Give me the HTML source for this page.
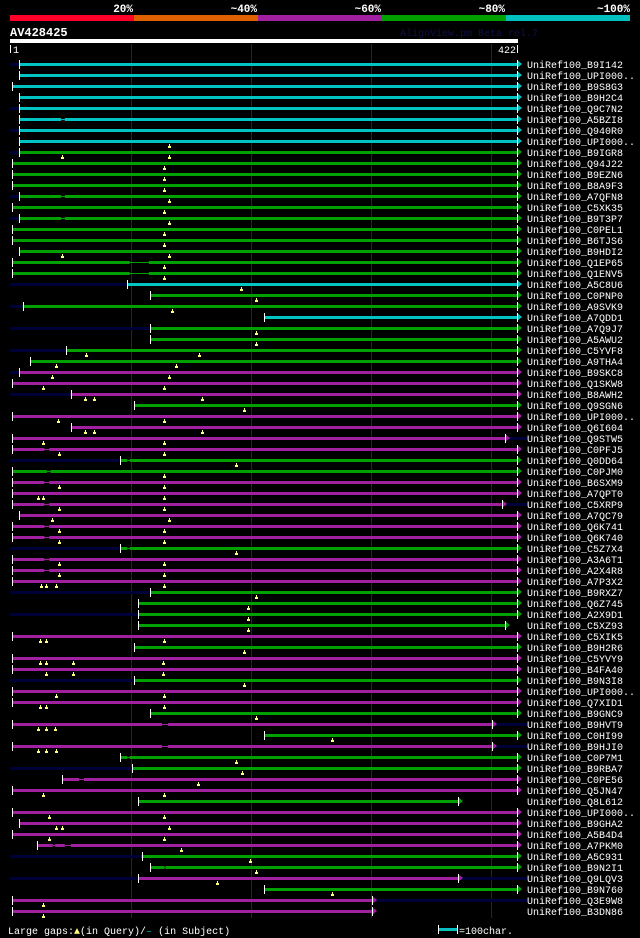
<!DOCTYPE html>
<html><head><meta charset="utf-8"><style>
html,body{margin:0;padding:0;background:#000;width:640px;height:938px;overflow:hidden}
svg{display:block}
text{font-family:"Liberation Mono","DejaVu Sans Mono",monospace}
</style></head><body>
<svg id="chart" width="640" height="938" viewBox="0 0 640 938" xmlns="http://www.w3.org/2000/svg">
<g>
<rect x="10" y="15" width="124" height="6" fill="#ff0028"/>
<rect x="134" y="15" width="124" height="6" fill="#e06000"/>
<rect x="258" y="15" width="124" height="6" fill="#a020a0"/>
<rect x="382" y="15" width="124" height="6" fill="#00a000"/>
<rect x="506" y="15" width="124" height="6" fill="#00c0c0"/>
<text x="133" y="12" fill="#fff" font-size="11" font-weight="bold" text-anchor="end">20%</text>
<text x="257" y="12" fill="#fff" font-size="11" font-weight="bold" text-anchor="end">~40%</text>
<text x="381" y="12" fill="#fff" font-size="11" font-weight="bold" text-anchor="end">~60%</text>
<text x="505" y="12" fill="#fff" font-size="11" font-weight="bold" text-anchor="end">~80%</text>
<text x="630" y="12" fill="#fff" font-size="11" font-weight="bold" text-anchor="end">~100%</text>
</g>
<text x="10" y="36" fill="#fff" font-size="12" font-weight="bold">AV428425</text>
<text x="400" y="36" fill="#101048" font-size="10">AlignView.pm Beta rel.7</text>
<rect x="10" y="39" width="508" height="4" fill="#fff"/>
<rect x="10" y="45" width="1" height="8" fill="#fff"/>
<text x="13" y="53" fill="#fff" font-size="10">1</text>
<text x="516" y="53" fill="#fff" font-size="10" text-anchor="end">422</text>
<rect x="517" y="45" width="1" height="8" fill="#fff"/>
<g id="grid"></g>
<g id="rows"></g>
<g>
<text x="8" y="934" fill="#fff" font-size="10">Large gaps:<tspan fill="#ffff80">▲</tspan>(in Query)/<tspan fill="#00c0c0">–</tspan> (in Subject)</text>
<rect x="439" y="928" width="18" height="3" fill="#00c0c0"/>
<rect x="438" y="925" width="1" height="9" fill="#fff"/>
<rect x="457" y="925" width="1" height="9" fill="#fff"/>
<text x="459" y="934" fill="#fff" font-size="10">=100char.</text>
</g>
</svg>
<script>
const names=["B9I142","UPI000..","B9S8G3","B9H2C4","Q9C7N2","A5BZI8","Q940R0","UPI000..","B9IGR8","Q94J22","B9EZN6","B8A9F3","A7QFN8","C5XK35","B9T3P7","C0PEL1","B6TJS6","B9HDI2","Q1EP65","Q1ENV5","A5C8U6","C0PNP0","A9SVK9","A7QDD1","A7Q9J7","A5AWU2","C5YVF8","A9THA4","B9SKC8","Q1SKW8","B8AWH2","Q9SGN6","UPI000..","Q6I604","Q9STW5","C0PFJ5","Q0DD64","C0PJM0","B6SXM9","A7QPT0","C5XRP9","A7QC79","Q6K741","Q6K740","C5Z7X4","A3A6T1","A2X4R8","A7P3X2","B9RXZ7","Q6Z745","A2X9D1","C5XZ93","C5XIK5","B9H2R6","C5YVY9","B4FA40","B9N3I8","UPI000..","Q7XID1","B9GNC9","B9HVT9","C0HI99","B9HJI0","C0P7M1","B9RBA7","C0PE56","Q5JN47","Q8L612","UPI000..","B9GHA2","A5B4D4","A7PKM0","A5C931","B9N2I1","Q9LQV3","B9N760","Q3E9W8","B3DN86"];
const identity=("cccccccc"+"gggggggggggg"+"cggcggggmmmgmmmmggmmmmmmgmmmggggmgmmgmmgmgmggmmgmmmmggmgmm").split("");
const starts=[7,7,1,7,7,7,7,7,7,1,1,1,7,1,7,1,1,7,1,1,97,116,10,211,116,116,46,16,7,1,50,103,1,50,1,1,91,1,1,1,1,7,1,1,91,1,1,1,116,106,106,106,1,103,1,1,103,1,1,116,1,211,1,91,101,43,1,106,1,7,1,22,109,116,106,211,1,1];
const ends=[422,422,422,422,422,422,422,422,422,422,422,422,422,422,422,422,422,422,422,422,422,422,422,422,422,422,422,422,422,422,422,422,422,422,412,422,422,422,422,422,409,422,422,422,422,422,422,422,422,422,422,412,422,422,422,422,422,422,422,422,401,422,401,422,422,422,422,373,422,422,422,422,422,422,373,422,301,301];
const leftOver=[1,0,0,0,1,0,1,0,1,0,0,0,1,0,1,0,0,0,0,0,1,0,1,0,1,0,1,0,1,0,1,0,0,0,0,0,1,0,0,0,0,0,0,0,1,0,0,0,1,0,1,0,0,0,0,0,1,0,0,0,0,0,0,0,1,0,0,0,0,0,0,0,1,0,1,0,0,0];
const rightOver=[0,0,0,0,0,0,0,0,0,0,0,0,0,0,0,0,0,0,0,0,0,0,0,0,0,0,0,0,0,0,0,0,0,0,1,0,0,0,0,0,1,0,0,0,0,0,0,0,0,0,0,0,0,0,0,0,0,0,0,0,1,0,1,0,0,0,0,0,0,0,0,0,0,0,1,0,1,0];
const queryGaps=[[],[],[],[],[],[],[],[132],[43,132],[128],[128],[128],[132],[128],[132],[128],[128],[43,132],[128],[128],[192],[204],[134],[],[204],[204],[63,157],[38,138],[34,132],[27,128],[62,69,159],[194],[39,128],[62,69,159],[27,128],[40,128],[188],[128],[40,128],[23,27,128],[40,128],[34,132],[40,128],[40,128],[188],[40,128],[40,128],[25,29,38,128],[204],[198],[198],[198],[24,29,128],[194],[24,29,52,127],[29,52,127],[194],[38,128],[24,29,128],[204],[23,29,37],[268],[23,29,38],[188],[193],[156],[27,128],[],[32,128],[38,43,132],[32,128],[142],[199],[204],[172],[268],[27],[27]];
const subjGaps=[[],[],[],[],[],[[42,45]],[],[],[],[],[],[],[[42,45]],[],[[42,45]],[],[],[],[[99,115]],[[99,115]],[],[],[],[],[],[],[],[],[],[],[],[],[],[],[],[[28,32]],[[97,99]],[[30,33]],[[28,32]],[],[[28,32]],[],[[28,32]],[[28,32]],[[97,99]],[[28,32]],[[28,32]],[],[],[],[],[],[],[],[],[],[],[],[],[],[[126,131]],[],[[126,131]],[[97,99]],[],[[57,61]],[],[],[],[],[],[[35,37],[45,50]],[],[[128,129]],[],[],[],[]];
const gridTicks=[100,200,300,400];
const COLORS={c:"#00c4c4",g:"#00a000",m:"#a020a0"};
const NS="http://www.w3.org/2000/svg";
function xScale(p){return 12+(p-1)*1.2;}
function yRow(i){return 64+11*i;}
function mk(parent,tag,attrs){const e=document.createElementNS(NS,tag);for(const k in attrs)e.setAttribute(k,attrs[k]);parent.appendChild(e);return e;}
const grid=document.getElementById('grid');
gridTicks.forEach(t=>{
  const l=mk(grid,'rect',{x:Math.round(xScale(t)),y:44,width:1,height:874,fill:'#2a2a00'});
  
  
});
const rows=document.getElementById('rows');
names.forEach((n,i)=>{
  const y=yRow(i);
  const col=COLORS[identity[i]];
  const g=mk(rows,'g',{});
  
  
  const x0=Math.round(xScale(starts[i])), x1=Math.round(xScale(ends[i]));
  if(leftOver[i]){const o=mk(g,'rect',{x:10,y:y-1,width:x0-10,height:3,fill:'#000038'});}
  if(rightOver[i]){const o=mk(g,'rect',{x:x1,y:y-1,width:528-x1,height:3,fill:'#000038'});}
  let segs=[[starts[i],ends[i]]];
  subjGaps[i].forEach(gp=>{
    const ns=[];segs.forEach(s=>{if(gp[0]>s[0]&&gp[1]<s[1]){ns.push([s[0],gp[0]]);ns.push([gp[1],s[1]]);}else ns.push(s);});segs=ns;
    const gl=mk(g,'rect',{x:xScale(gp[0]),y:y,width:xScale(gp[1])-xScale(gp[0]),height:1,fill:col});
    
    
  });
  segs.forEach(s=>{
    const b=mk(g,'rect',{x:xScale(s[0]),y:y-1,width:xScale(s[1])-xScale(s[0]),height:3,fill:col});
    
    
  });
  const st=mk(g,'rect',{x:x0,y:y-4,width:1,height:9,fill:'#fff'});
  
  
  const ar=mk(g,'polygon',{points:`${x1},${y-4} ${x1+5},${y} ${x1},${y+4}`,fill:col});
  
  
  const et=mk(g,'rect',{x:x1,y:y-4,width:1,height:9,fill:'#fff'});
  
  
  queryGaps[i].forEach(q=>{
    const qx=Math.round(xScale(q));
    const s1=mk(g,'rect',{x:qx,y:y+3,width:1,height:2,fill:'#ffff80'});
    
    
    const s2=mk(g,'rect',{x:qx-1,y:y+5,width:3,height:2,fill:'#ffff80'});
    
    
  });
  const t=mk(g,'text',{x:527,y:y+4,fill:'#fff','font-size':10});
  t.textContent='UniRef100_'+n;
  
  
});
</script>
</body></html>
